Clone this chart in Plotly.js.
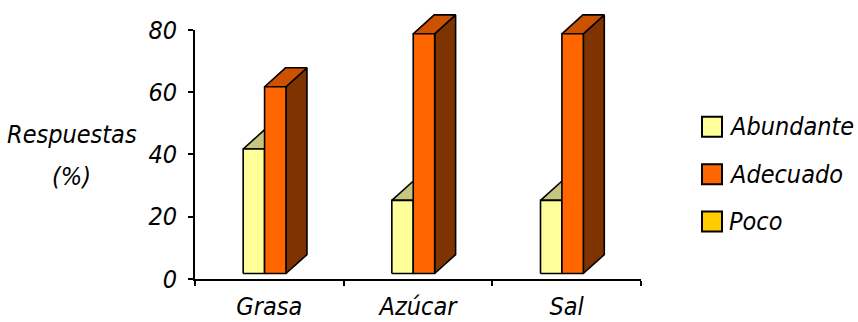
<!DOCTYPE html>
<html>
<head>
<meta charset="utf-8">
<script src="https://cdn.plot.ly/plotly-3.0.1.min.js"></script>
<style>html,body{margin:0;padding:0;background:#fff;}#chart{width:858px;height:322px;}</style>
</head>
<body>
<div id="chart"></div>
<script>
// ---- data ----
const categories = ['Grasa', 'Azúcar', 'Sal'];
const seriesNames = ['Abundante', 'Adecuado', 'Poco'];
const abundante = [40, 23.5, 23.5];
const adecuado = [60, 77, 77];
const poco = [0, 0, 0];
const yTickVals = [0, 20, 40, 60, 80];
const yTitleLines = ['Respuestas', '(%)'];

// ---- styles ----
const FONT = '"Liberation Sans Narrow", "Arial Narrow", "DejaVu Sans Condensed", sans-serif';
const frontColors = ['#FFFF99', '#FF6600', '#FFCC00'];
const topColors = ['#C6C680', '#CC5200', '#CCA300'];
const sideColors = ['#8C8C50', '#7F3300', '#806600'];
const W = 0.144;      // bar width (category units)
const SHIFT = 0.04;   // group shift
const DX = 0.141;     // 3D depth, x
const DY = 6.08;      // 3D depth, y

// pixel frame
const TOP = 8, AX_TOP = 30, BASE = 279.5, BAR_BASE = 274, H = 322;
const L0 = 195, PW = 446;
const areaH = BASE - TOP;            // full drawing height
const axH = BASE - AX_TOP;           // visible axis height
const pxPerUnit = axH / 80;
const y2min = -(BASE - BAR_BASE) / pxPerUnit;
const y2max = y2min + areaH / pxPerUnit;

const allSeries = [abundante, adecuado, poco];
const traces = [];

// invisible trace to register categories on main axis
traces.push({x: categories, y: categories.map(() => null), type: 'scatter', mode: 'markers',
  xaxis: 'x', yaxis: 'y', showlegend: false, hoverinfo: 'skip'});

allSeries.forEach((vals, k) => {
  const off = -1.5 * W + SHIFT + k * W;
  const side = {x: [], y: []}, top = {x: [], y: []}, front = {x: [], y: []};
  vals.forEach((v, i) => {
    if (!v) return;
    const x0 = i + off, x1 = x0 + W;
    side.x.push(x1, x1, x1 + DX, x1 + DX, x1, null);
    side.y.push(0, v, v + DY, DY, 0, null);
    top.x.push(x0, x1, x1 + DX, x0 + DX, x0, null);
    top.y.push(v, v, v + DY, v + DY, v, null);
    front.x.push(x0, x1, x1, x0, x0, null);
    front.y.push(0, 0, v, v, 0, null);
  });
  [[side, sideColors[k]], [top, topColors[k]], [front, frontColors[k]]].forEach(([p, c]) => {
    traces.push({x: p.x, y: p.y, type: 'scatter', mode: 'lines', fill: 'toself',
      fillcolor: c, line: {color: '#000', width: 1.6}, xaxis: 'x2', yaxis: 'y2',
      name: seriesNames[k], showlegend: false, hoverinfo: 'skip', connectgaps: false});
  });
});

// manual legend
const px = v => (v - L0) / PW;
const py = v => (BASE - v) / areaH;
const shapes = [], annotations = [];
const legY = [127, 174.5, 222];
seriesNames.forEach((n, k) => {
  shapes.push({type: 'rect', xref: 'paper', yref: 'paper',
    x0: px(702), x1: px(722), y0: py(legY[k] + 10), y1: py(legY[k] - 10),
    fillcolor: frontColors[k], line: {color: '#000', width: 2}});
  annotations.push({xref: 'paper', yref: 'paper', x: px(727), y: py(legY[k]),
    xanchor: 'left', yanchor: 'middle', text: n, showarrow: false,
    font: {family: FONT, size: 25, color: '#000', style: 'italic'}});
});
annotations.push({xref: 'paper', yref: 'paper', x: px(72), y: py(135), xanchor: 'center', yanchor: 'middle',
  text: yTitleLines[0], showarrow: false, font: {family: FONT, size: 25, color: '#000', style: 'italic'}});
annotations.push({xref: 'paper', yref: 'paper', x: px(72), y: py(177), xanchor: 'center', yanchor: 'middle',
  text: yTitleLines[1], showarrow: false, font: {family: FONT, size: 25, color: '#000', style: 'italic'}});

const tickFont = {family: FONT, size: 25, color: '#000', style: 'italic'};
const layout = {
  width: 858, height: 322,
  margin: {l: L0, r: 858 - L0 - PW, t: TOP, b: H - BASE, pad: 0},
  paper_bgcolor: '#fff', plot_bgcolor: 'rgba(0,0,0,0)',
  showlegend: false,
  xaxis: {type: 'category', categoryorder: 'array', categoryarray: categories, range: [-0.5, 2.5],
    domain: [0, 1], anchor: 'y',
    showline: true, linecolor: '#000', linewidth: 2, showgrid: false, zeroline: false,
    ticks: 'outside', tickson: 'boundaries', ticklen: 5, tickwidth: 2, tickcolor: '#000',
    tickfont: tickFont, ticklabelstandoff: 4, fixedrange: true},
  yaxis: {range: [0, 80], tickvals: yTickVals, domain: [0, axH / areaH], anchor: 'x',
    showline: true, linecolor: '#000', linewidth: 2,
    showgrid: false, zeroline: false, ticks: 'outside', ticklen: 5, tickwidth: 2, tickcolor: '#000',
    tickfont: tickFont, ticklabelstandoff: 6, fixedrange: true},
  xaxis2: {range: [-0.5, 2.5], domain: [0, 1], anchor: 'y2', visible: false, fixedrange: true},
  yaxis2: {range: [y2min, y2max], domain: [0, 1], anchor: 'x2', visible: false, fixedrange: true},
  shapes: shapes,
  annotations: annotations
};
Plotly.newPlot('chart', traces, layout, {staticPlot: true});
</script>
</body>
</html>
